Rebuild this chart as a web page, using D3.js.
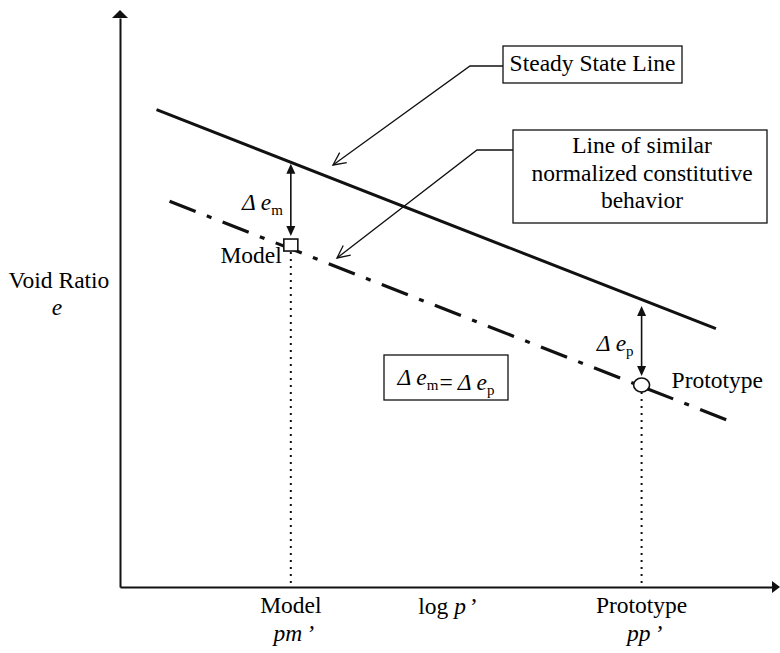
<!DOCTYPE html>
<html>
<head>
<meta charset="utf-8">
<script src="https://cdn.jsdelivr.net/npm/d3@7"></script>
<style>
  body { margin: 0; background: #fff; }
</style>
</head>
<body>
<svg id="chart" width="780" height="653"></svg>
<script>
// Schematic e – log p' diagram, both axes in arbitrary units (0–100)
const steadyStateLine = [[5.6, 83.9], [91.4, 45.4]];
const similarLine = [[7.6, 67.8], [93.2, 29.3]];
const stateNames = ["Model", "Prototype"];
const stateSubs = ["m", "p"];
const stateLogP = [26.2, 80.0];
const stateE = [60.1, 35.5];
const stateESteady = [74.4, 49.4];   // steady-state e at the same p'

const W = 780, H = 653;
const SERIF = "'Liberation Serif', 'Times New Roman', Times, serif";
const svg = d3.select("#chart").attr("font-family", SERIF);
svg.append("rect").attr("width", W).attr("height", H).attr("fill", "#fff");

const x = d3.scaleLinear().domain([0, 100]).range([120, 772]);
const y = d3.scaleLinear().domain([0, 100]).range([587, 18]);
const ink = "#111";
const FS = 23.5;

// ---- axes (no ticks, arrow at the open ends)
const xAxis = svg.append("g").attr("transform", `translate(0,${y(0)})`)
  .call(d3.axisBottom(x).tickValues([]).tickSizeOuter(0));
const yAxis = svg.append("g").attr("transform", `translate(${x(0)},0)`)
  .call(d3.axisLeft(y).tickValues([]).tickSizeOuter(0));
[xAxis, yAxis].forEach(g => g.select(".domain").attr("stroke", ink).attr("stroke-width", 2));

svg.append("path")
  .attr("d", `M${x(100)},${y(0) - 6}L${x(100) + 8},${y(0)}L${x(100)},${y(0) + 6}Z`)
  .attr("fill", ink);
svg.append("path")
  .attr("d", `M${x(0) - 8},${y(100)}L${x(0)},${y(100) - 8}L${x(0) + 8},${y(100)}Z`)
  .attr("fill", ink);

// ---- the two lines
const line = d3.line().x(d => x(d[0])).y(d => y(d[1]));
svg.append("path").datum(steadyStateLine).attr("d", line)
  .attr("fill", "none").attr("stroke", ink).attr("stroke-width", 3);
svg.append("path").datum(similarLine).attr("d", line)
  .attr("fill", "none").attr("stroke", ink).attr("stroke-width", 3.2)
  .attr("stroke-dasharray", "28,12,5,12");

// ---- dotted projections down to the p' axis
stateLogP.forEach((p, i) => {
  svg.append("line")
    .attr("x1", x(p)).attr("x2", x(p))
    .attr("y1", y(stateE[i]) + 7).attr("y2", y(0))
    .attr("stroke", ink).attr("stroke-width", 2)
    .attr("stroke-dasharray", "2,5");
});

// ---- Δe double arrows between the lines
function tri(cx, cy, dir) {
  // filled arrowhead, dir = -1 points up, +1 points down
  return `M${cx - 4.5},${cy - dir * 10}L${cx},${cy}L${cx + 4.5},${cy - dir * 10}Z`;
}
stateLogP.forEach((p, i) => {
  const top = y(stateESteady[i]);
  const bot = y(stateE[i]) - 9;
  svg.append("line").attr("x1", x(p)).attr("x2", x(p))
    .attr("y1", top + 4).attr("y2", bot - 4)
    .attr("stroke", ink).attr("stroke-width", 1.6);
  svg.append("path").attr("d", tri(x(p), top, -1)).attr("fill", ink);
  svg.append("path").attr("d", tri(x(p), bot, 1)).attr("fill", ink);
});

// ---- state markers
const mx = x(stateLogP[0]), my = y(stateE[0]);
svg.append("rect").attr("x", mx - 7).attr("y", my - 6).attr("width", 14).attr("height", 12)
  .attr("fill", "#fff").attr("stroke", ink).attr("stroke-width", 1.6);
const px = x(stateLogP[1]), py = y(stateE[1]);
svg.append("ellipse").attr("cx", px).attr("cy", py).attr("rx", 8).attr("ry", 7)
  .attr("fill", "#fff").attr("stroke", ink).attr("stroke-width", 1.6);

// ---- text helpers
function deltaE(g, sub) {
  g.append("tspan").attr("font-style", "italic").text("Δ");
  g.append("tspan").attr("font-style", "italic").attr("dx", 5).text("e");
  g.append("tspan").attr("font-size", 15).attr("dy", 5).text(sub);
  g.append("tspan").attr("dy", -5).text("");
}

// Δe labels beside the arrows
stateLogP.forEach((p, i) => {
  const t = svg.append("text")
    .attr("x", x(p) - 8).attr("y", (y(stateESteady[i]) + y(stateE[i])) / 2 + 6)
    .attr("text-anchor", "end").attr("font-size", FS);
  deltaE(t, stateSubs[i]);
});

// marker names
svg.append("text").attr("x", mx - 9).attr("y", my + 18).attr("text-anchor", "end")
  .attr("font-size", FS).text(stateNames[0]);
svg.append("text").attr("x", px + 30).attr("y", py + 3).attr("font-size", FS).text(stateNames[1]);

// Δe_m = Δe_p box
const eqBox = { x: 384, y: 355, w: 124, h: 45 };
svg.append("rect").attr("x", eqBox.x).attr("y", eqBox.y).attr("width", eqBox.w).attr("height", eqBox.h)
  .attr("fill", "#fff").attr("stroke", ink).attr("stroke-width", 1.3);
const eq = svg.append("text").attr("x", eqBox.x + eqBox.w / 2).attr("y", eqBox.y + 30)
  .attr("text-anchor", "middle").attr("font-size", FS);
deltaE(eq, "m");
eq.append("tspan").attr("dx", 1).text("=");
eq.append("tspan").attr("font-style", "italic").attr("dx", 5).text("Δ");
eq.append("tspan").attr("font-style", "italic").attr("dx", 5).text("e");
eq.append("tspan").attr("font-size", 15).attr("dy", 5).text("p");

// ---- callout boxes with leader arrows
function leader(pts) {
  svg.append("path").attr("d", d3.line()(pts))
    .attr("fill", "none").attr("stroke", ink).attr("stroke-width", 1.3);
  const [a, b] = pts.slice(-2);
  const ang = Math.atan2(b[1] - a[1], b[0] - a[0]);
  const L = 14, sp = 0.45;
  const h1 = [b[0] - L * Math.cos(ang - sp), b[1] - L * Math.sin(ang - sp)];
  const h2 = [b[0] - L * Math.cos(ang + sp), b[1] - L * Math.sin(ang + sp)];
  svg.append("path").attr("d", d3.line()([h1, b, h2]))
    .attr("fill", "none").attr("stroke", ink).attr("stroke-width", 1.3);
}

const sslBox = { x: 503, y: 46, w: 179, h: 37 };
svg.append("rect").attr("x", sslBox.x).attr("y", sslBox.y).attr("width", sslBox.w).attr("height", sslBox.h)
  .attr("fill", "#fff").attr("stroke", ink).attr("stroke-width", 1.3);
svg.append("text").attr("x", sslBox.x + sslBox.w / 2).attr("y", sslBox.y + 25)
  .attr("text-anchor", "middle").attr("font-size", FS).text("Steady State Line");
leader([[sslBox.x, 66], [470, 66], [333, 165]]);

const simBox = { x: 513, y: 130, w: 254, h: 93 };
svg.append("rect").attr("x", simBox.x).attr("y", simBox.y).attr("width", simBox.w).attr("height", simBox.h)
  .attr("fill", "#fff").attr("stroke", ink).attr("stroke-width", 1.3);
["Line of similar", "normalized constitutive", "behavior"].forEach((s, i) => {
  svg.append("text").attr("x", simBox.x + simBox.w / 2 + 2).attr("y", 153 + i * 27.5)
    .attr("text-anchor", "middle").attr("font-size", FS).text(s);
});
leader([[simBox.x, 150], [477, 150], [337, 258]]);

// ---- axis titles
svg.append("text").attr("x", 59).attr("y", 288).attr("text-anchor", "middle")
  .attr("font-size", FS).text("Void Ratio");
svg.append("text").attr("x", 57).attr("y", 315).attr("text-anchor", "middle")
  .attr("font-size", FS).attr("font-style", "italic").text("e");

const lx = svg.append("text").attr("x", 448).attr("y", 614).attr("text-anchor", "middle")
  .attr("font-size", FS);
lx.append("tspan").text("log ");
lx.append("tspan").attr("font-style", "italic").text("p");
lx.append("tspan").attr("dx", 4).text("’");

stateLogP.forEach((p, i) => {
  svg.append("text").attr("x", x(p)).attr("y", 613).attr("text-anchor", "middle")
    .attr("font-size", FS).text(stateNames[i]);
  const t = svg.append("text").attr("x", x(p) + 3).attr("y", 641).attr("text-anchor", "middle")
    .attr("font-size", FS).attr("font-style", "italic");
  t.append("tspan").text("p" + stateSubs[i]);
  t.append("tspan").attr("dx", 4).text("’");
});
</script>
</body>
</html>
